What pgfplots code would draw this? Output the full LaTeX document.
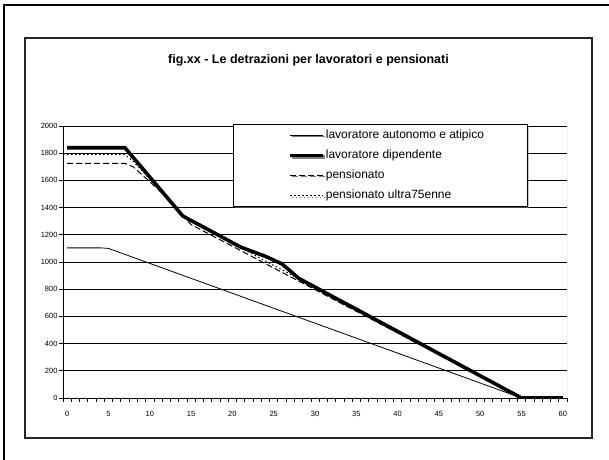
\documentclass[border=0pt]{standalone}
\usepackage{pgfplots}
\usepackage{pgfplotstable}
\usepackage{fontspec}
\setmainfont{Liberation Sans}
\pgfplotsset{compat=1.18}
\usetikzlibrary{shadows}

% reddito (migliaia di euro) e detrazioni
\pgfplotstableread{
x   aut   dip   pen   p75
0   1104  1840  1725  1790
1   1104  1840  1725  1790
2   1104  1840  1725  1790
3   1104  1840  1725  1790
4   1104  1840  1725  1790
5   1100  1840  1725  1790
6   1078  1840  1725  1790
7   1056  1840  1725  1790
8   1034  1768  1700  1740
9   1012  1697  1645  1675
10  990   1625  1590  1610
11  968   1553  1535  1545
12  946   1481  1478  1480
13  924   1410  1410  1410
14  902   1338  1342  1345
15  880   1305  1275  1300
16  858   1273  1243  1268
17  836   1240  1211  1235
18  814   1208  1179  1203
19  792   1175  1148  1170
20  770   1142  1116  1138
21  748   1110  1084  1105
22  726   1087  1052  1073
23  704   1064  1020  1040
24  682   1042  988   1008
25  660   1014  956   975
26  638   986   924   943
27  616   934   892   910
28  594   881   861   878
29  572   848   829   845
30  550   816   797   813
31  528   783   765   780
32  506   750   733   748
33  484   718   701   715
34  462   685   669   683
35  440   653   638   650
36  418   620   606   618
37  396   587   574   585
38  374   555   542   553
39  352   522   510   520
40  330   490   478   488
41  308   457   446   455
42  286   424   414   423
43  264   392   383   390
44  242   359   351   358
45  220   326   319   325
46  198   294   287   293
47  176   261   255   260
48  154   228   223   228
49  132   196   191   195
50  110   163   159   163
51  88    131   128   130
52  66    98    96    98
53  44    65    64    65
54  22    33    32    33
55  0     0     0     0
56  0     0     0     0
57  0     0     0     0
58  0     0     0     0
59  0     0     0     0
60  0     0     0     0
}\detrazioni

\begin{document}
\begin{tikzpicture}[x=1pt,y=1pt]
\useasboundingbox (0,0) rectangle (609,459);
% cornice esterna
\draw[line width=2.5pt] (4,-5) -- (4,454) -- (615,454);
% cornice del grafico
\draw[line width=1.2pt, black!85] (25,21) rectangle (592,421);
\node[font=\bfseries\fontsize{12.5}{14}\selectfont] at (308.5,399) {fig.xx - Le detrazioni per lavoratori e pensionati};

\begin{axis}[
    at={(63pt,61pt)}, anchor=south west,
    scale only axis,
    width=504pt, height=272pt,
    xmin=-0.5, xmax=60.5,
    ymin=0, ymax=2000,
    axis x line*=bottom,
    axis y line*=left,
    axis line style={black, line width=0.8pt, -},
    xtick={0,5,...,60},
    minor xtick={-0.5,0.5,...,60.5},
    ytick={0,200,...,2000},
    minor ytick={0,200,...,2000},
    tick align=outside,
    major tick length=0pt,
    minor tick length=4pt,
    tick style={black, line width=0.7pt},
    ymajorgrids,
    major grid style={black, line width=0.7pt},
    tick label style={font=\fontsize{7.5}{9}\selectfont},
    xticklabel style={yshift=-10pt},
    yticklabel style={xshift=-2pt},
    /pgf/number format/assume math mode=true,
    /pgf/number format/1000 sep={},
    legend style={
        at={(0.3373,1.0074)}, anchor=north west,
        draw=black, fill=white, line width=0.6pt,
        drop shadow={shadow xshift=1.5pt, shadow yshift=-1.5pt, fill=black!45},
        font=\fontsize{12}{14}\selectfont,
        row sep=6.1pt,
        inner xsep=2pt, inner ysep=4pt,
        nodes={inner sep=1pt, text height=9pt, text depth=3pt},
    },
    legend cell align=left,
    legend image code/.code={
        \path (-53pt,0pt) (0pt,0pt);
        \draw[#1] (0pt,0pt) -- (33pt,0pt);
    },
]
\draw[black!40, line width=0.8pt] (rel axis cs:1,0) -- (rel axis cs:1,1);
\addplot[black, line width=0.8pt] table[x=x, y=aut] {\detrazioni};
\addlegendentry{lavoratore autonomo e atipico\hspace*{40pt}\null}
\addplot[black, line width=3.6pt] table[x=x, y=dip] {\detrazioni};
\addlegendentry{lavoratore dipendente}
\addplot[black, line width=1pt, dash pattern=on 6pt off 3pt] table[x=x, y=pen] {\detrazioni};
\addlegendentry{pensionato}
\addplot[black, line width=1pt, dash pattern=on 1.5pt off 2.5pt] table[x=x, y=p75] {\detrazioni};
\addlegendentry{pensionato ultra75enne}
\end{axis}
\end{tikzpicture}
\end{document}
